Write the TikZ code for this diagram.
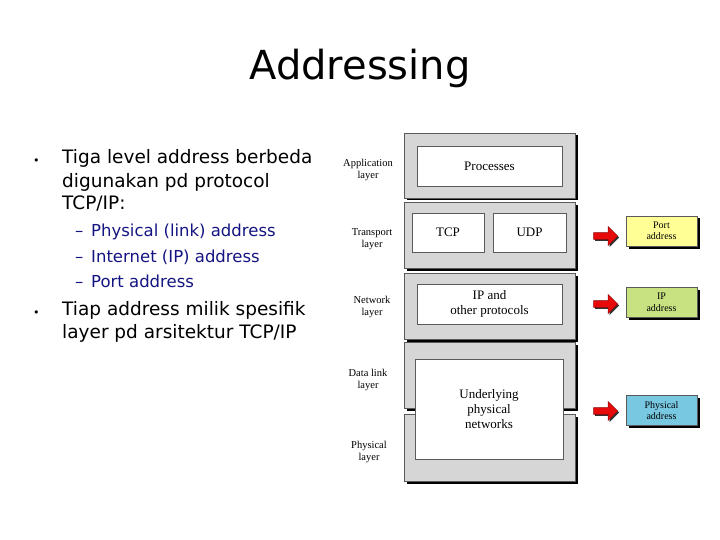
\documentclass[tikz,border=0pt]{standalone}
\usepackage{fontspec}
\setmainfont{Liberation Serif}
\newfontfamily\slidefont{DejaVu Sans}
\usepackage{tikz}
\usetikzlibrary{shapes.arrows, shadows, positioning}
\definecolor{layergray}{RGB}{214,214,214}
\definecolor{edgegray}{RGB}{90,90,90}
\definecolor{subnavy}{RGB}{20,20,130}
\definecolor{portyellow}{RGB}{255,255,150}
\definecolor{ipgreen}{RGB}{200,226,130}
\definecolor{physblue}{RGB}{120,200,225}
\definecolor{arrowred}{RGB}{230,10,10}
\tikzset{
  title/.style={font=\slidefont\fontsize{40}{44}\selectfont, inner sep=0pt},
  bullet/.style={anchor=west, font=\slidefont\fontsize{18.5}{21}\selectfont, inner sep=0pt,
    text height=0.75em, text depth=0.22em},
  dot/.style={anchor=west, font=\slidefont\fontsize{11}{13}\selectfont, inner sep=0pt,
    text height=1.2em, text depth=0.35em},
  subbullet/.style={anchor=west, font=\slidefont\fontsize{16.5}{19}\selectfont, text=subnavy, inner sep=0pt,
    text height=0.75em, text depth=0.22em},
  layerbox/.style={rectangle, draw=edgegray, fill=layergray, line width=0.6pt,
    minimum width=171pt, drop shadow={shadow xshift=2.5pt, shadow yshift=-2.5pt, fill=black, opacity=1}},
  innerbox/.style={rectangle, draw=edgegray, fill=white, line width=0.5pt,
    align=center, font=\fontsize{13}{15}\selectfont},
  lbl/.style={align=center, font=\fontsize{10.5}{12}\selectfont, inner sep=0pt},
  addrbox/.style={rectangle, draw=edgegray, line width=0.4pt, minimum width=71pt, minimum height=30pt,
    align=center, font=\fontsize{10}{11.5}\selectfont, inner sep=0pt,
    drop shadow={shadow xshift=2.5pt, shadow yshift=-2.5pt, fill=black, opacity=1}},
  redarrow/.style={single arrow, draw=arrowred!60!black, fill=arrowred, minimum height=24pt,
    minimum width=19pt, single arrow head extend=4pt, inner sep=2pt,
    drop shadow={shadow xshift=1.5pt, shadow yshift=-1.5pt, fill=black!80, opacity=1}}
}
\begin{document}
\begin{tikzpicture}[x=1pt, y=-1pt]
  \useasboundingbox (0,0) rectangle (720,540);

  % Title
  \node[title] (ttl) at (360,68) {Addressing};

  % Bullet text
  \node[dot] (b1) at (33,160) {•};
  \node[bullet] (t1) at (62,161) {Tiga level address berbeda};
  \node[bullet] (t2) at (62,185) {digunakan pd protocol};
  \node[bullet] (t3) at (62,207) {TCP/IP:};
  \node[subbullet] (d1) at (75,234) {–};
  \node[subbullet] (s1) at (91,234) {Physical (link) address};
  \node[subbullet] (d2) at (75,260) {–};
  \node[subbullet] (s2) at (91,260) {Internet (IP) address};
  \node[subbullet] (d3) at (75,285) {–};
  \node[subbullet] (s3) at (91,285) {Port address};
  \node[dot] (b2) at (33,312) {•};
  \node[bullet] (t4) at (62,313) {Tiap address milik spesifik};
  \node[bullet] (t5) at (62,336) {layer pd arsitektur TCP/IP};

  % Layers
  \node[layerbox, minimum height=65pt] (app) at (489.5,165.5) {};
  \node[layerbox, minimum height=66pt] (trans) at (489.5,235.5) {};
  \node[layerbox, minimum height=66pt] (net) at (489.5,306) {};
  \node[layerbox, minimum height=66pt] (link) at (489.5,375) {};
  \node[layerbox, minimum height=67pt] (phys) at (489.5,447.5) {};

  % Protocols inside the layers
  \node[innerbox, minimum width=145pt, minimum height=40pt] (proc) at (489.5,166) {Processes};
  \node[innerbox, minimum width=72pt, minimum height=39pt] (tcp) at (448,232.5) {TCP};
  \node[innerbox, minimum width=73pt, minimum height=39pt] (udp) at (529.5,232.5) {UDP};
  \node[innerbox, minimum width=145pt, minimum height=40pt] (ip) at (489.5,304) {IP and\\other protocols};
  \node[innerbox, minimum width=148pt, minimum height=100pt] (under) at (489,409) {Underlying\\physical\\networks};

  % Layer names
  \node[lbl] (lapp) at (368,170) {Application\\layer};
  \node[lbl] (ltrans) at (372,239) {Transport\\layer};
  \node[lbl] (lnet) at (372,307) {Network\\layer};
  \node[lbl] (llink) at (368,380) {Data link\\layer};
  \node[lbl] (lphys) at (369,452) {Physical\\layer};

  % Addresses
  \node[addrbox, fill=portyellow] (port) at (661.5,231) {Port\\address};
  \node[addrbox, fill=ipgreen] (ipa) at (661.5,302.5) {IP\\address};
  \node[addrbox, fill=physblue] (phya) at (661.5,410.5) {Physical\\address};
  \node[redarrow] (a1) at (604,236) {};
  \node[redarrow] (a2) at (604,304) {};
  \node[redarrow] (a3) at (604,411) {};
\end{tikzpicture}
\end{document}
